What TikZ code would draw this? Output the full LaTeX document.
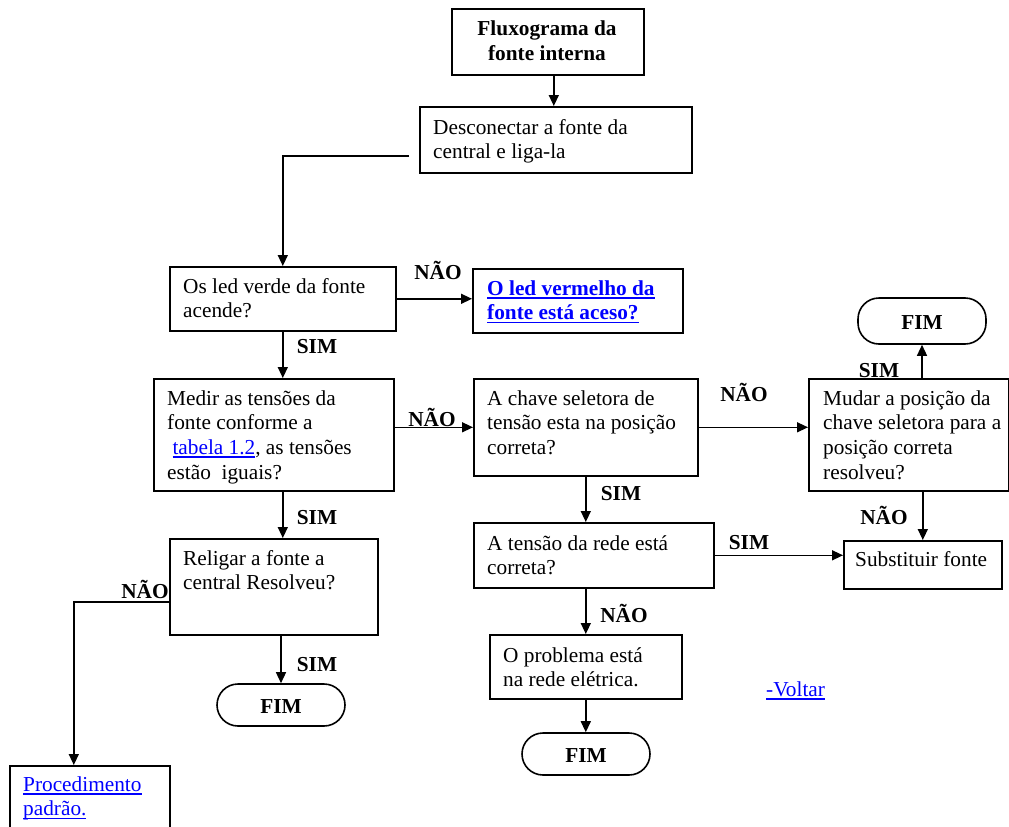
\documentclass[tikz,border=0pt]{standalone}
\usepackage{fontspec}
\setmainfont{Liberation Serif}
\usetikzlibrary{arrows.meta}
\definecolor{linkblue}{RGB}{0,0,255}
\newcommand\myul[1]{\setbox0\hbox{#1}\rlap{\rule[-3.5pt]{\wd0}{1.5pt}}\box0}
\newcommand\mlines[1]{\vtop{\baselineskip=24.7pt\lineskiplimit=-100pt #1}}
\newcommand\ctrline[1]{\hbox to 0pt{\hss #1\hss}}
\begin{document}
\begin{tikzpicture}[x=1pt,y=-1pt, font=\fontsize{21.3}{24.7}\selectfont,
 box/.style={draw, line width=1.6pt, rectangle, inner sep=0pt, anchor=north west},
 term/.style={draw, line width=1.6pt, rounded corners=21pt, inner sep=0pt, text height=17pt, text depth=0pt, font=\fontsize{21.3}{24.7}\selectfont\bfseries},
 txt/.style={anchor=base west, inner sep=0pt},
 lab/.style={anchor=base, inner sep=0pt, font=\fontsize{21.3}{24.7}\selectfont\bfseries},
 arr/.style={line width=1.4pt, -{Triangle[length=11pt,width=10pt]}}]
\clip (0,0) rectangle (1009,827);
\useasboundingbox (0,0) rectangle (1009,827);
\fill[white] (0,0) rectangle (1009,827);
% boxes
\node[box, minimum width=192pt, minimum height=66pt] (b1) at (451,8) {};
\node[box, minimum width=272pt, minimum height=66pt] (b2) at (419,106) {};
\node[box, minimum width=226pt, minimum height=64pt] (b3) at (169,266) {};
\node[box, minimum width=210pt, minimum height=64pt] (b4) at (472,268) {};
\node[box, minimum width=240pt, minimum height=112pt] (b5) at (153,378) {};
\node[box, minimum width=224pt, minimum height=97pt] (b6) at (473,378) {};
\node[box, minimum width=200pt, minimum height=112pt] (b7) at (808,378) {};
\node[box, minimum width=158pt, minimum height=48pt] (b8) at (843,540) {};
\node[box, minimum width=240pt, minimum height=65pt] (b9) at (473,522) {};
\node[box, minimum width=192pt, minimum height=64pt] (b10) at (489,634) {};
\node[box, minimum width=208pt, minimum height=96pt] (b11) at (169,538) {};
\node[box, minimum width=160pt, minimum height=90pt] (b12) at (9,765) {};
\node[term, minimum width=128pt, minimum height=46pt] (fim1) at (922,321) {FIM};
\node[term, minimum width=128pt, minimum height=42pt] (fim2) at (281,705) {FIM};
\node[term, minimum width=128pt, minimum height=42pt] (fim3) at (586,754) {FIM};
% texts
\node[anchor=base, inner sep=0pt, font=\fontsize{21.3}{24.7}\selectfont\bfseries] (t1) at (547,35)
  {\vtop{\baselineskip=25pt\lineskiplimit=-100pt \ctrline{Fluxograma da}\ctrline{fonte interna}}};
\node[txt] (t2) at (433,134) {\mlines{\hbox{Desconectar a fonte da}\hbox{central e liga-la}}};
\node[txt] (t3) at (183,293) {\mlines{\hbox{Os led verde da fonte}\hbox{acende?}}};
\node[txt, text=linkblue, font=\fontsize{21.3}{24.7}\selectfont\bfseries] (t4) at (487,295)
  {\mlines{\hbox{\myul{O led vermelho da}}\hbox{\myul{fonte está aceso?}}}};
\node[txt] (t5) at (167,405) {\mlines{\hbox{Medir as tensões da}\hbox{fonte conforme a}\hbox{\ \textcolor{linkblue}{\myul{tabela 1.2}}, as tensões}\hbox{estão\ \ iguais?}}};
\node[txt] (t6) at (487,405) {\mlines{\hbox{A chave seletora de}\hbox{tensão esta na posição}\hbox{correta?}}};
\node[txt] (t7) at (823,405) {\mlines{\hbox{Mudar a posição da}\hbox{chave seletora para a}\hbox{posição correta}\hbox{resolveu?}}};
\node[txt] (t8) at (855,566) {Substituir fonte};
\node[txt] (t9) at (487,550) {\mlines{\hbox{A tensão da rede está}\hbox{correta?}}};
\node[txt] (t10) at (503,662) {\mlines{\hbox{O problema está}\hbox{na rede elétrica.}}};
\node[txt] (t11) at (183,565) {\mlines{\hbox{Religar a fonte a}\hbox{central Resolveu?}}};
\node[txt, text=linkblue] (t12) at (23,791) {\mlines{\hbox{\myul{Procedimento}}\hbox{\myul{padrão.}}}};
\node[txt, text=linkblue] (volt) at (766,696) {\myul{-Voltar}};
% connectors
\draw[arr] ([xshift=6pt]b1.south) -- ([xshift=-2pt]b2.north);
\draw[arr] ([xshift=-10pt,yshift=-16pt]b2.west) -| (b3.north);
\draw[arr] (b3.east) -- (b3.east -| b4.west);
\draw[arr] (b3.south) -- (b3.south |- b5.north);
\draw[arr] (b6.west -| b5.east) -- (b6.west);
\draw[arr] (b6.east) -- (b6.east -| b7.west);
\draw[arr] (fim1.south |- b7.north) -- (fim1.south);
\draw[arr] (b8.north |- b7.south) -- (b8.north);
\draw[arr] (b6.south) -- (b6.south |- b9.north);
\draw[arr] (b9.east) -- (b9.east -| b8.west);
\draw[arr] (b10.north |- b9.south) -- (b10.north);
\draw[arr] (b10.south) -- (b10.south |- fim3.north);
\draw[arr] (b3.south |- b5.south) -- (b3.south |- b11.north);
\draw[arr] (fim2.north |- b11.south) -- (fim2.north);
\draw[arr] ([yshift=-15pt]b11.west) -| ([xshift=-16pt]b12.north);
% labels
\node[lab] (l1) at (438,279) {NÃO};
\node[lab] (l2) at (317,353) {SIM};
\node[lab] (l3) at (432,426) {NÃO};
\node[lab] (l4) at (744,401) {NÃO};
\node[lab] (l5) at (879,377) {SIM};
\node[lab] (l6) at (884,524) {NÃO};
\node[lab] (l7) at (621,500) {SIM};
\node[lab] (l8) at (749,549) {SIM};
\node[lab] (l9) at (624,622) {NÃO};
\node[lab] (l10) at (317,524) {SIM};
\node[lab] (l11) at (145,598) {NÃO};
\node[lab] (l12) at (317,671) {SIM};
\end{tikzpicture}
\end{document}
